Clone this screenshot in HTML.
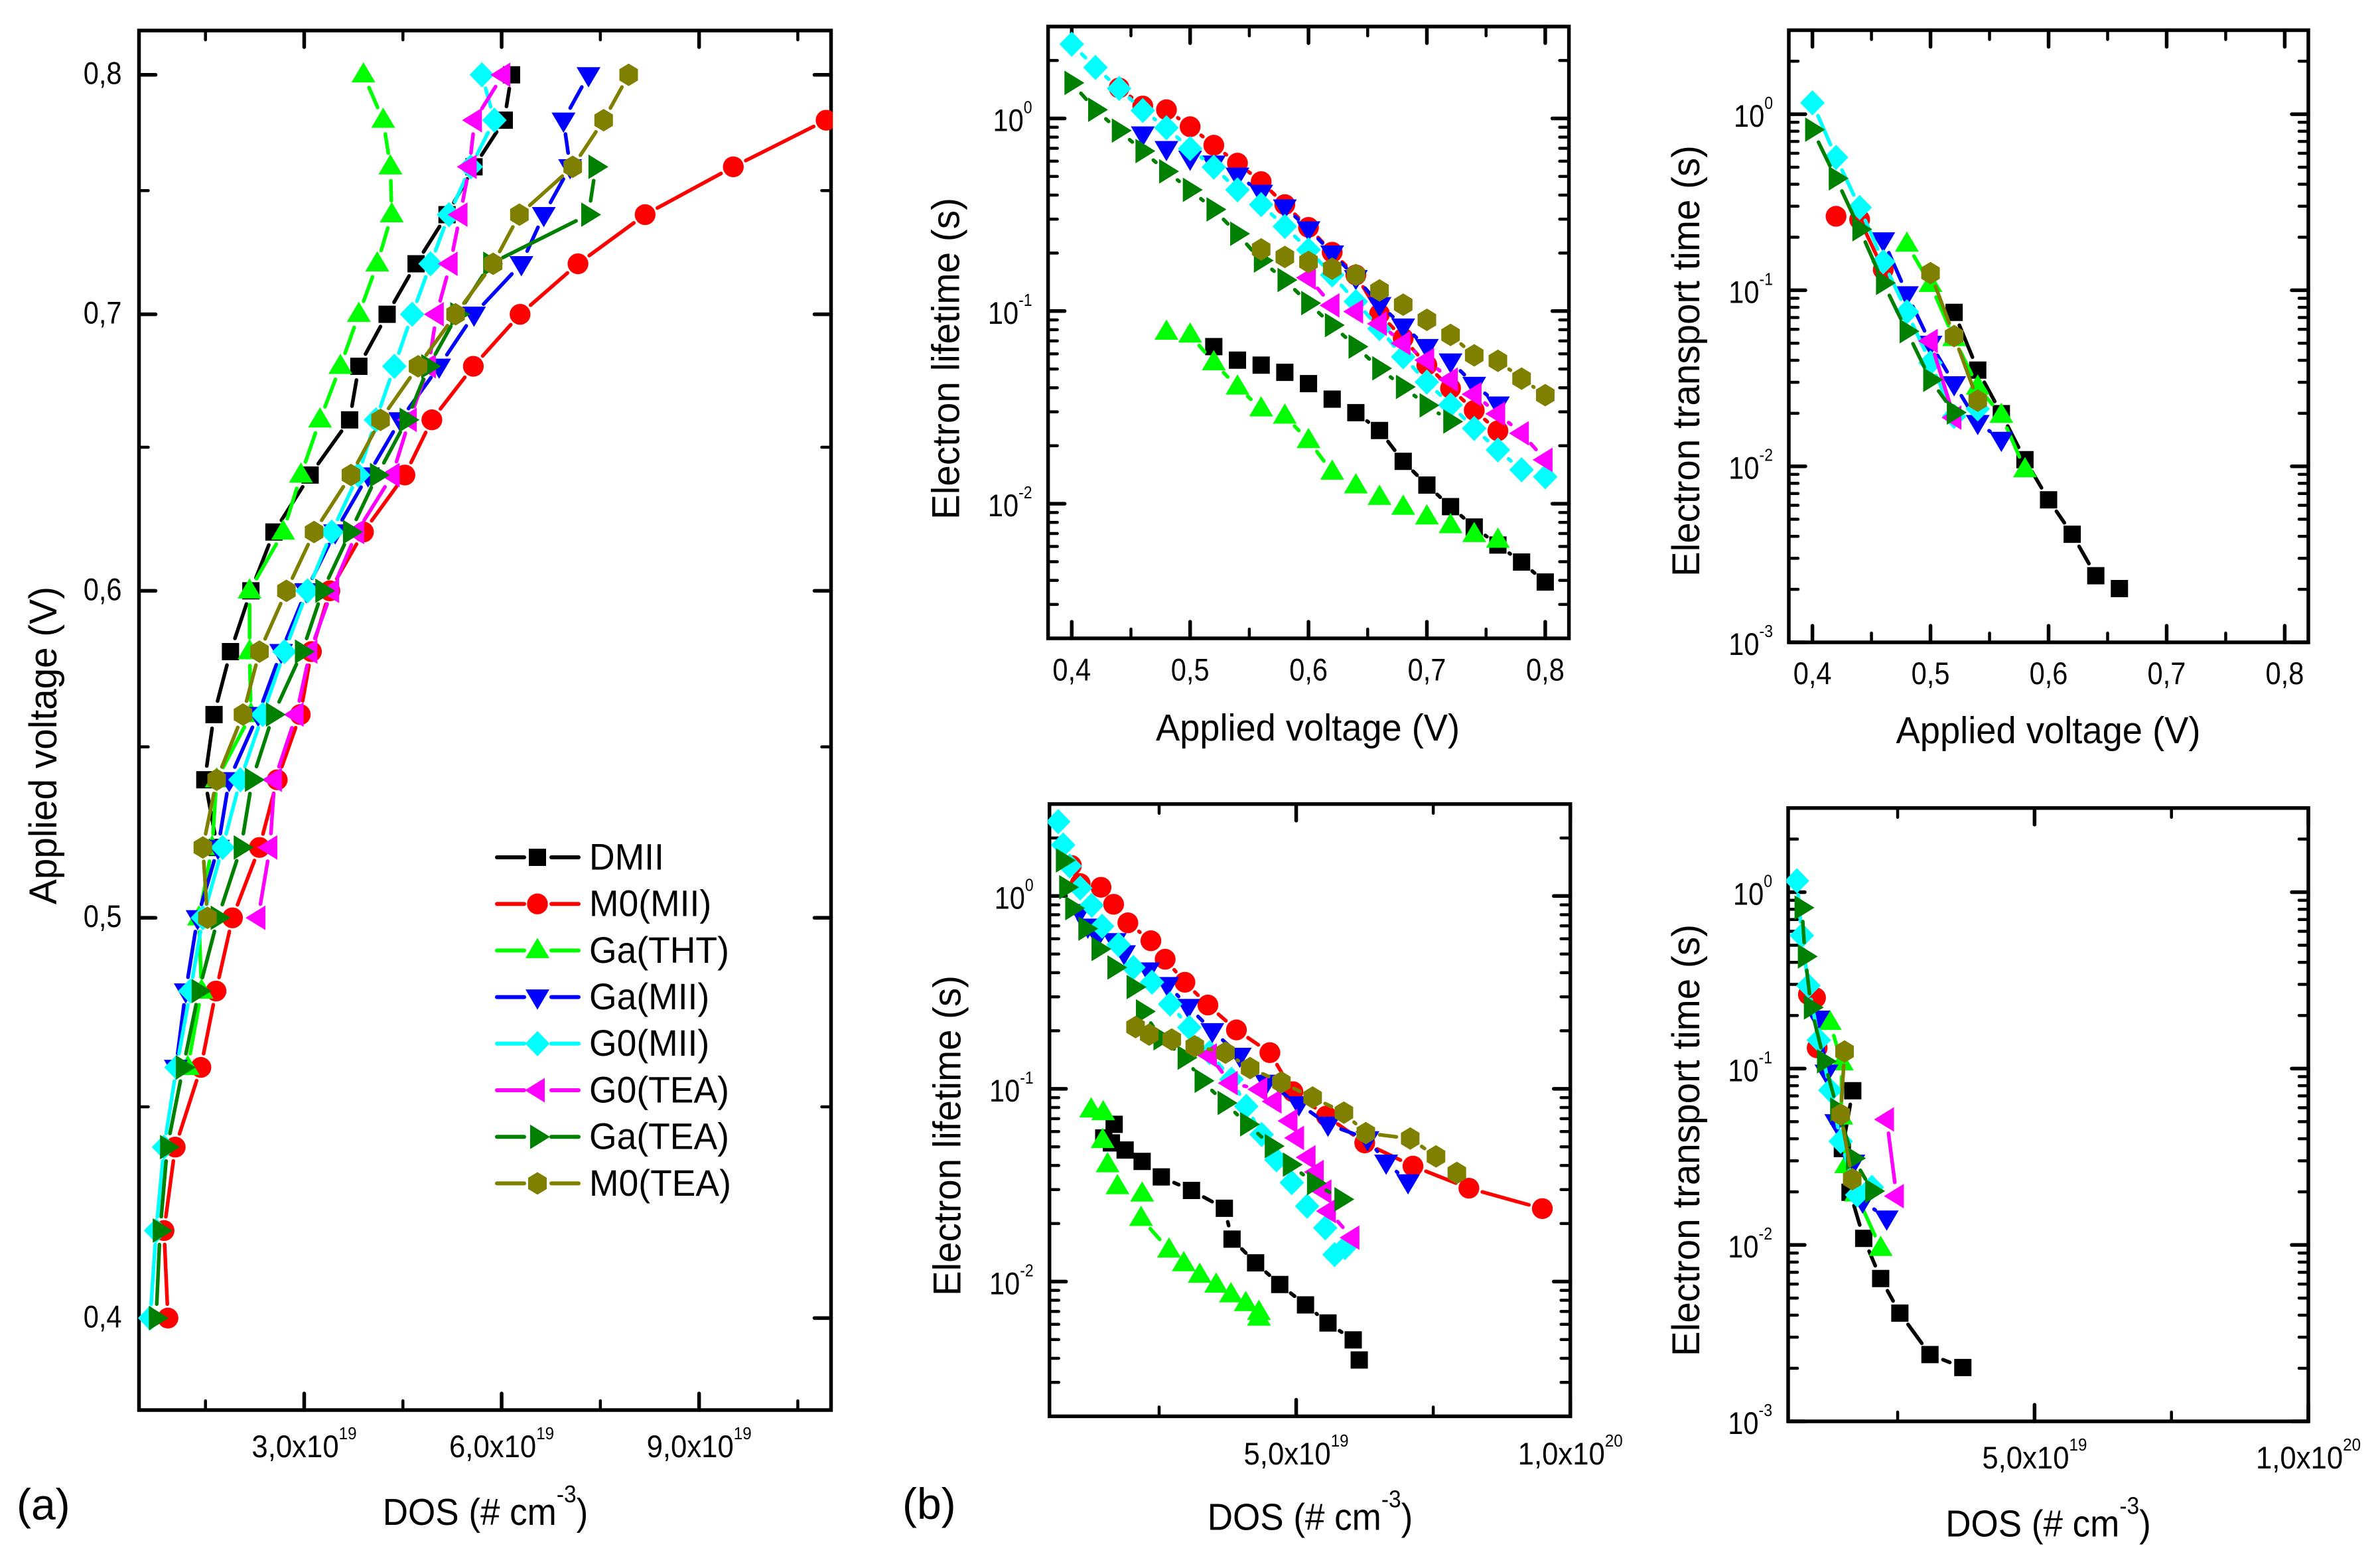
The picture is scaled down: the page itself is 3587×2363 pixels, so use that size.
<!DOCTYPE html>
<html lang="en">
<head>
<meta charset="utf-8">
<title>DOS, electron lifetime and transport time charts</title>
<style>
html,body{margin:0;padding:0;background:#fff;}
svg{display:block;}
text{font-family:"Liberation Sans",Arial,sans-serif;fill:#000;}
</style>
</head>
<body>
<svg id="chart" xmlns="http://www.w3.org/2000/svg" width="3587" height="2363" viewBox="0 0 3587 2363">
<rect x="0" y="0" width="3587" height="2363" fill="#fff"/>
<text x="25" y="2290" font-size="66">(a)</text>
<text x="1360" y="2289" font-size="66">(b)</text>
<g id="panels"></g>
<g id="legend"></g>
</svg>
<script>
const n = null;
const voltages = [0.40,0.42,0.44,0.46,0.48,0.50,0.52,0.54,0.56,0.58,0.60,0.62,0.64,0.66,0.68,0.70,0.72,0.74,0.76,0.78,0.80];

// DOS (x10^19 cm-3)
const dosDMII  = [n,n,n,n,n,n,1.68,1.49,1.63,1.88,2.19,2.54,3.09,3.69,3.83,4.26,4.70,5.17,5.58,6.04,6.15];
const dosM0MII = [0.93,0.87,1.04,1.43,1.66,1.91,2.32,2.59,2.94,3.11,3.39,3.90,4.53,4.94,5.57,6.28,7.16,8.18,9.52,10.93,n];
const dosGaTHT = [n,n,n,1.23,1.44,1.40,1.60,1.67,2.19,2.17,2.17,2.68,2.95,3.24,3.55,3.83,4.11,4.33,4.31,4.20,3.90];
const dosGaMII = [n,n,n,1.05,1.20,1.38,1.69,1.86,2.30,2.65,3.03,3.47,3.97,4.46,5.05,5.58,6.30,6.64,7.04,6.94,7.32];
const dosG0MII = [0.66,0.75,0.87,1.06,1.27,1.46,1.76,2.03,2.37,2.70,3.05,3.42,3.82,4.09,4.37,4.64,4.92,5.20,5.53,5.89,5.70];
const dosG0TEA = [n,n,n,n,n,2.30,2.48,2.55,2.88,3.09,3.42,3.80,4.34,4.60,4.89,5.01,5.22,5.37,5.51,5.59,6.02];
const dosGaTEA = [0.75,0.81,0.92,1.16,1.40,1.69,2.04,2.21,2.53,2.97,3.28,3.70,4.11,4.56,4.89,5.33,5.83,7.32,7.43,n,n];
const dosM0TEA = [n,n,n,n,n,1.53,1.46,1.67,2.07,2.32,2.73,3.15,3.71,4.16,4.73,5.30,5.87,6.27,7.08,7.55,7.93];

// DOS values as plotted against lifetime / transport where they differ from panel (a)
const dosM0MIILifetime  = [n,n,0.90,1.06,1.44,1.67,1.93,2.35,2.61,2.97,3.39,3.91,4.52,4.94,5.55,6.25,7.13,8.15,9.49,n,n];
const dosGaTHTLifetime  = [n,n,n,n,1.26,1.48,1.47,1.56,1.74,2.19,2.17,2.68,2.95,3.24,3.54,3.81,4.08,4.32,4.32,n,n];
const dosM0MIITransport = [n,0.87,1.00,1.03,n,n,n,n,n,n,n,n,n,n,n,n,n,n,n,n,n];

// Electron lifetime (s)
const lifeDMII  = [n,n,n,n,n,n,0.0654,0.0556,0.0524,0.0481,0.0420,0.0349,0.0297,0.0240,0.0166,0.0125,0.00966,0.00757,0.00610,0.00498,0.00392];
const lifeM0MII = [n,n,1.44,1.16,1.11,0.906,0.726,0.586,0.470,0.357,0.272,0.202,0.154,0.0966,0.0722,0.0524,0.0397,0.0305,0.0239,n,n];
const lifeGaTHT = [n,n,n,n,0.0778,0.0752,0.0540,0.0404,0.0311,0.0285,0.0213,0.0146,0.0124,0.0108,0.00960,0.00855,0.00770,0.00693,0.00647,n,n];
const lifeGaMII = [n,n,n,0.830,0.697,0.621,0.586,0.507,0.413,0.347,0.267,0.200,0.149,0.108,0.0835,0.0654,0.0550,0.0416,0.0329,n,n];
const lifeG0MII = [2.43,1.84,1.43,1.10,0.895,0.697,0.559,0.426,0.357,0.275,0.208,0.154,0.112,0.0811,0.0579,0.0428,0.0326,0.0246,0.0190,0.0150,0.0138];
const lifeG0TEA = [n,n,n,n,n,n,n,n,n,n,0.149,0.107,0.0994,0.0860,0.0681,0.0556,0.0441,0.0370,0.0293,0.0232,0.0169];
const lifeGaTEA = [1.53,1.11,0.865,0.677,0.531,0.426,0.337,0.252,0.183,0.145,0.110,0.0845,0.0654,0.0504,0.0404,0.0324,0.0267,n,n,n,n];
const lifeM0TEA = [n,n,n,n,n,n,n,n,0.209,0.191,0.180,0.166,0.154,0.128,0.108,0.0901,0.0752,0.0589,0.0552,0.0446,0.0366];

// Electron transport time (s)
const transDMII  = [n,n,n,n,n,n,0.0749,0.0352,0.0199,0.0109,0.00645,0.00411,0.00239,0.00202,n,n,n,n,n,n,n];
const transM0MII = [n,0.263,0.252,0.131,n,n,n,n,n,n,n,n,n,n,n,n,n,n,n,n,n];
const transGaTHT = [n,n,n,n,0.183,0.108,0.0532,0.0282,0.0195,0.00957,n,n,n,n,n,n,n,n,n,n,n];
const transGaMII = [n,n,n,0.193,0.0953,0.0499,0.0294,0.0177,0.0142,n,n,n,n,n,n,n,n,n,n,n,n];
const transG0MII = [1.16,0.568,0.295,0.145,0.0754,0.0387,0.0192,0.0212,n,n,n,n,n,n,n,n,n,n,n,n,n];
const transG0TEA = [n,n,n,n,n,0.0515,0.0189,n,n,n,n,n,n,n,n,n,n,n,n,n,n];
const transGaTEA = [0.817,0.432,0.222,0.110,0.0585,0.0310,0.0202,n,n,n,n,n,n,n,n,n,n,n,n,n,n];
const transM0TEA = [n,n,n,n,n,0.125,0.0549,0.0236,n,n,n,n,n,n,n,n,n,n,n,n,n];

const seriesNames = ['DMII','M0(MII)','Ga(THT)','Ga(MII)','G0(MII)','G0(TEA)','Ga(TEA)','M0(TEA)'];
const seriesKeys = ['dmii','m0-mii','ga-tht','ga-mii','g0-mii','g0-tea','ga-tea','m0-tea'];
const seriesColors = ['#000000','#ff0000','#00ff00','#0000ff','#00ffff','#ff00ff','#008000','#808000'];
const seriesShapes = ['square','circle','up','down','diamond','left','right','hex'];

const dosAll = [dosDMII,dosM0MII,dosGaTHT,dosGaMII,dosG0MII,dosG0TEA,dosGaTEA,dosM0TEA];
const dosLife = [dosDMII,dosM0MIILifetime,dosGaTHTLifetime,dosGaMII,dosG0MII,dosG0TEA,dosGaTEA,dosM0TEA];
const dosTrans = [dosDMII,dosM0MIITransport,dosGaTHTLifetime,dosGaMII,dosG0MII,dosG0TEA,dosGaTEA,dosM0TEA];
const lifeAll = [lifeDMII,lifeM0MII,lifeGaTHT,lifeGaMII,lifeG0MII,lifeG0TEA,lifeGaTEA,lifeM0TEA];
const transAll = [transDMII,transM0MII,transGaTHT,transGaMII,transG0MII,transG0TEA,transGaTEA,transM0TEA];
const voltsAll = seriesNames.map(function(){return voltages;});

const voltageTicksY = [0.4,0.5,0.6,0.7,0.8];
const voltageTickLabels = ['0,4','0,5','0,6','0,7','0,8'];
const voltageMinorY = [0.45,0.55,0.65,0.75];
const voltageMinorX = [0.45,0.55,0.65,0.75];
const dosTicksA = [3,6,9];
const dosTickLabelsA = ['3,0x10','6,0x10','9,0x10'];
const dosExpA = ['19','19','19'];
const dosMinorA = [1.5,4.5,7.5,10.5];
const dosTicksB = [5,10];
const dosTickLabelsB = ['5,0x10','1,0x10'];
const dosExpB = ['19','20'];
const dosMinorB = [2.5,7.5];
const lifeExponents = [0,-1,-2];
const transExponents = [0,-1,-2,-3];

const NS = 'http://www.w3.org/2000/svg';
const root = document.getElementById('panels');
const TICK_SQUEEZE = 0.885;
const DOS_TICK_SQUEEZE = 0.93;
const TITLE_SQUEEZE = 0.93;
const LEGEND_SQUEEZE = 0.955;
let clipCount = 0;

function el(tag, parent){
  const e = document.createElementNS(NS, tag);
  parent.appendChild(e);
  return e;
}
function linScale(d0,d1,r0,r1){return function(v){return r0+(v-d0)/(d1-d0)*(r1-r0);};}
function logScale(d0,d1,r0,r1){return function(v){return r0+(Math.log10(v)-Math.log10(d0))/(Math.log10(d1)-Math.log10(d0))*(r1-r0);};}
function squeeze(t,x,y,sx){
  t.setAttribute('x',0);
  t.setAttribute('y',0);
  t.setAttribute('transform','translate('+x+' '+y+') scale('+sx+' 1)');
}

function tickLine(g,x1,y1,x2,y2,major){
  const t = el('line',g);
  t.setAttribute('x1',x1);t.setAttribute('y1',y1);t.setAttribute('x2',x2);t.setAttribute('y2',y2);
  t.setAttribute('stroke','#000');
  t.setAttribute('stroke-width',major?5.5:4.5);
  t.setAttribute('stroke-linecap','round');
  
  
}
function xTicks(g,f,scale,vals,major){
  const len = major?25:14;
  vals.forEach(function(v){
    const x = scale(v);
    tickLine(g,x,f.bottom,x,f.bottom-len,major);
    tickLine(g,x,f.top,x,f.top+len,major);
  });
}
function yTicks(g,f,scale,vals,major){
  const len = major?25:14;
  vals.forEach(function(v){
    const y = scale(v);
    tickLine(g,f.left,y,f.left+len,y,major);
    tickLine(g,f.right,y,f.right-len,y,major);
  });
}
function logMinors(d0,d1){
  const out = [];
  for(let e=Math.floor(Math.log10(d0));e<=Math.ceil(Math.log10(d1));e++){
    for(let m=2;m<=9;m++){
      const v = m*Math.pow(10,e);
      if(v>d0*1.01 && v<d1*0.99) out.push(v);
    }
  }
  return out;
}

function drawMarker(g,shape,cx,cy,color,scale){
  let m;
  const s = scale;
  function poly(pts){
    m = el('polygon',g);
    m.setAttribute('points',pts.map(function(p){return (cx+p[0]*s)+','+(cy+p[1]*s);}).join(' '));
  }
  if(shape==='square'){poly([[-13,-13],[13,-13],[13,13],[-13,13]]);}
  else if(shape==='circle'){
    m = el('circle',g);
    m.setAttribute('cx',cx);m.setAttribute('cy',cy);m.setAttribute('r',15.7*s);
  }
  else if(shape==='up'){poly([[0,-19],[18,11.5],[-18,11.5]]);}
  else if(shape==='down'){poly([[0,19],[18,-11.5],[-18,-11.5]]);}
  else if(shape==='left'){poly([[-19,0],[11,-18.5],[11,18.5]]);}
  else if(shape==='right'){poly([[19,0],[-11,-18.5],[-11,18.5]]);}
  else if(shape==='diamond'){poly([[0,-19],[18.5,0],[0,19],[-18.5,0]]);}
  else {poly([[0,-17],[14,-8.5],[14,8.5],[0,17],[-14,8.5],[-14,-8.5]]);}
  m.setAttribute('fill',color);
  
  
}

function drawSeries(g,key,xs,ys,sx,sy,color,shape){
  const s = el('g',g);
  
  
  const pts = [];
  for(let i=0;i<xs.length;i++){
    if(xs[i]===null||ys[i]===null||xs[i]===undefined||ys[i]===undefined) continue;
    pts.push([sx(xs[i]),sy(ys[i])]);
  }
  const trim = 21;
  for(let i=0;i<pts.length-1;i++){
    const dx = pts[i+1][0]-pts[i][0], dy = pts[i+1][1]-pts[i][1];
    const d = Math.hypot(dx,dy);
    if(d<=2*trim+1) continue;
    const ln = el('line',s);
    ln.setAttribute('x1',pts[i][0]+dx/d*trim);
    ln.setAttribute('y1',pts[i][1]+dy/d*trim);
    ln.setAttribute('x2',pts[i+1][0]-dx/d*trim);
    ln.setAttribute('y2',pts[i+1][1]-dy/d*trim);
    ln.setAttribute('stroke',color);
    ln.setAttribute('stroke-width',5.5);
    ln.setAttribute('stroke-linecap','round');
    
    
  }
  pts.forEach(function(p){drawMarker(s,shape,p[0],p[1],color,1);});
}

function supLabel(g,x,y,anchor,main,sup,name,sx){
  const t = el('text',g);
  squeeze(t,x,y,sx);
  t.setAttribute('text-anchor',anchor);
  t.setAttribute('font-size',47);
  
  
  const a = el('tspan',t);
  a.textContent = main;
  const b = el('tspan',t);
  b.setAttribute('dy',-27);
  b.setAttribute('font-size',26);
  b.textContent = sup;
  return t;
}
function plainTick(g,x,y,anchor,label,name){
  const t = el('text',g);
  squeeze(t,x,y,TICK_SQUEEZE);
  t.setAttribute('text-anchor',anchor);
  t.setAttribute('font-size',47);
  
  
  t.textContent = label;
}
function xTitle(g,cx,y,text,len){
  const t = el('text',g);
  t.setAttribute('x',cx);t.setAttribute('y',y);
  t.setAttribute('text-anchor','middle');
  t.setAttribute('font-size',57);
  t.setAttribute('textLength',len);
  t.setAttribute('lengthAdjust','spacingAndGlyphs');
  
  
  t.textContent = text;
}
function dosTitle(g,cx,y){
  const t = el('text',g);
  squeeze(t,cx,y,TITLE_SQUEEZE);
  t.setAttribute('text-anchor','middle');
  t.setAttribute('font-size',57);
  
  
  const a = el('tspan',t);
  a.textContent = 'DOS (# cm';
  const b = el('tspan',t);
  b.setAttribute('dy',-34);
  b.setAttribute('font-size',36);
  b.textContent = '-3';
  const c = el('tspan',t);
  c.setAttribute('dy',34);
  c.textContent = ')';
}
function yTitle(g,x,cy,text,len){
  const t = el('text',g);
  t.setAttribute('x',x);t.setAttribute('y',cy);
  t.setAttribute('text-anchor','middle');
  t.setAttribute('font-size',58);
  t.setAttribute('transform','rotate(-90 '+x+' '+cy+')');
  t.setAttribute('textLength',len);
  t.setAttribute('lengthAdjust','spacingAndGlyphs');
  
  
  t.textContent = text;
}
function frameRect(g,f){
  const r = el('rect',g);
  r.setAttribute('x',f.left);r.setAttribute('y',f.top);
  r.setAttribute('width',f.right-f.left);r.setAttribute('height',f.bottom-f.top);
  r.setAttribute('fill','none');
  r.setAttribute('stroke','#000');
  r.setAttribute('stroke-width',5.5);
  
  
}
function plotSeries(g,f,xs,ys,sx,sy){
  clipCount += 1;
  const id = 'plot-clip-'+clipCount;
  const cp = el('clipPath',g);
  cp.setAttribute('id',id);
  const cr = el('rect',cp);
  cr.setAttribute('x',f.left-2.5);
  cr.setAttribute('y',f.top-2.5);
  cr.setAttribute('width',f.right-f.left+5);
  cr.setAttribute('height',f.bottom-f.top+5);
  const area = el('g',g);
  area.setAttribute('clip-path','url(#'+id+')');
  
  
  xs.forEach(function(col,i){
    drawSeries(area,seriesKeys[i],col,ys[i],sx,sy,seriesColors[i],seriesShapes[i]);
  });
}
function panelGroup(name){
  const g = el('g',root);
  
  
  return g;
}

/* Panel (a): voltage vs DOS */
(function(){
  const f = {left:209.5,right:1252.5,top:46,bottom:2125};
  const g = panelGroup('panel-a-voltage-vs-dos');
  const sx = linScale(0.5,11,f.left+1,f.right-0.5);
  const sy = logScale(0.38,0.82,f.bottom,f.top);
  xTicks(g,f,sx,dosTicksA,true);
  xTicks(g,f,sx,dosMinorA,false);
  yTicks(g,f,sy,voltageTicksY,true);
  yTicks(g,f,sy,voltageMinorY,false);
  frameRect(g,f);
  plotSeries(g,f,dosAll,voltsAll,sx,sy);
  voltageTicksY.forEach(function(v,i){
    plainTick(g,183.5,sy(v)+14,'end',voltageTickLabels[i],'y-tick-label');
  });
  dosTicksA.forEach(function(v,i){
    supLabel(g,sx(v),2196,'middle',dosTickLabelsA[i],dosExpA[i],'x-tick-label',DOS_TICK_SQUEEZE);
  });
  yTitle(g,85,1123.5,'Applied voltage (V)',479);
  dosTitle(g,731.5,2298);
})();

function logPanel(cfg){
  const f = cfg.frame;
  const g = panelGroup(cfg.name);
  const xs = cfg.xScale(f);
  const ys = logScale(cfg.ymin,3,f.bottom,f.top);
  xTicks(g,f,xs,cfg.xMajor,true);
  xTicks(g,f,xs,cfg.xMinor,false);
  yTicks(g,f,ys,cfg.exponents.map(function(e){return Math.pow(10,e);}),true);
  yTicks(g,f,ys,logMinors(cfg.ymin,3),false);
  frameRect(g,f);
  plotSeries(g,f,cfg.xData,cfg.yData,xs,ys);
  cfg.exponents.forEach(function(e){
    const y = ys(Math.pow(10,e));
    supLabel(g,f.left-24,y+19,'end','10',String(e),'y-tick-label',TICK_SQUEEZE);
  });
  yTitle(g,cfg.yTitleX,cfg.yTitleY,cfg.yTitle,cfg.yTitleLen);
  return {g:g,xs:xs};
}

/* Top left: lifetime vs voltage */
(function(){
  const r = logPanel({name:'panel-b-lifetime-vs-voltage',frame:{left:1579.6,right:2364.6,top:40,bottom:962},
    xScale:function(f){return linScale(0.38,0.82,f.left,f.right);},ymin:0.002,
    xMajor:voltageTicksY,xMinor:voltageMinorX,exponents:lifeExponents,
    xData:voltsAll,yData:lifeAll,yTitle:'Electron lifetime (s)',yTitleX:1445.6,yTitleY:540.5,yTitleLen:485});
  voltageTicksY.forEach(function(v,i){
    plainTick(r.g,r.xs(v),1025.6,'middle',voltageTickLabels[i],'x-tick-label');
  });
  xTitle(r.g,1971,1116,'Applied voltage (V)',458);
})();

/* Top right: transport time vs voltage */
(function(){
  const r = logPanel({name:'panel-b-transport-vs-voltage',frame:{left:2696,right:3479,top:45.5,bottom:968},
    xScale:function(f){return linScale(0.38,0.82,f.left,f.right);},ymin:0.001,
    xMajor:voltageTicksY,xMinor:voltageMinorX,exponents:transExponents,
    xData:voltsAll,yData:transAll,yTitle:'Electron transport time (s)',yTitleX:2561,yTitleY:544,yTitleLen:650});
  voltageTicksY.forEach(function(v,i){
    plainTick(r.g,r.xs(v),1031,'middle',voltageTickLabels[i],'x-tick-label');
  });
  xTitle(r.g,3087,1120,'Applied voltage (V)',459);
})();

/* Bottom left: lifetime vs DOS */
(function(){
  const r = logPanel({name:'panel-b-lifetime-vs-dos',frame:{left:1581.7,right:2366.7,top:1211.7,bottom:2134.4},
    xScale:function(f){return linScale(0.5,10,f.left,f.right);},ymin:0.002,
    xMajor:dosTicksB,xMinor:dosMinorB,exponents:lifeExponents,
    xData:dosLife,yData:lifeAll,yTitle:'Electron lifetime (s)',yTitleX:1447.7,yTitleY:1711.5,yTitleLen:483});
  dosTicksB.forEach(function(v,i){
    supLabel(r.g,r.xs(v),2207,'middle',dosTickLabelsB[i],dosExpB[i],'x-tick-label',DOS_TICK_SQUEEZE);
  });
  dosTitle(r.g,1974.5,2305.7);
})();

/* Bottom right: transport time vs DOS */
(function(){
  const r = logPanel({name:'panel-b-transport-vs-dos',frame:{left:2695,right:3479,top:1217.7,bottom:2142},
    xScale:function(f){return linScale(0.5,10,f.left,f.right);},ymin:0.001,
    xMajor:dosTicksB,xMinor:dosMinorB,exponents:transExponents,
    xData:dosTrans,yData:transAll,yTitle:'Electron transport time (s)',yTitleX:2561,yTitleY:1718.5,yTitleLen:651});
  dosTicksB.forEach(function(v,i){
    supLabel(r.g,r.xs(v),2213,'middle',dosTickLabelsB[i],dosExpB[i],'x-tick-label',DOS_TICK_SQUEEZE);
  });
  dosTitle(r.g,3087,2315.5);
})();

/* Legend */
(function(){
  const lg = document.getElementById('legend');
  seriesNames.forEach(function(name,i){
    const y = 1292 + i*70.2;
    const e = el('g',lg);
    
    
    [[749,790],[831,872]].forEach(function(seg){
      const ln = el('line',e);
      ln.setAttribute('x1',seg[0]);ln.setAttribute('y1',y);
      ln.setAttribute('x2',seg[1]);ln.setAttribute('y2',y);
      ln.setAttribute('stroke',seriesColors[i]);
      ln.setAttribute('stroke-width',6);
      ln.setAttribute('stroke-linecap','round');
      
      
    });
    drawMarker(e,seriesShapes[i],810,y,seriesColors[i],1);
    const t = el('text',e);
    squeeze(t,888,y+18.4,LEGEND_SQUEEZE);
    t.setAttribute('font-size',56);
    
    
    t.textContent = name;
  });
})();
</script>
</body>
</html>
